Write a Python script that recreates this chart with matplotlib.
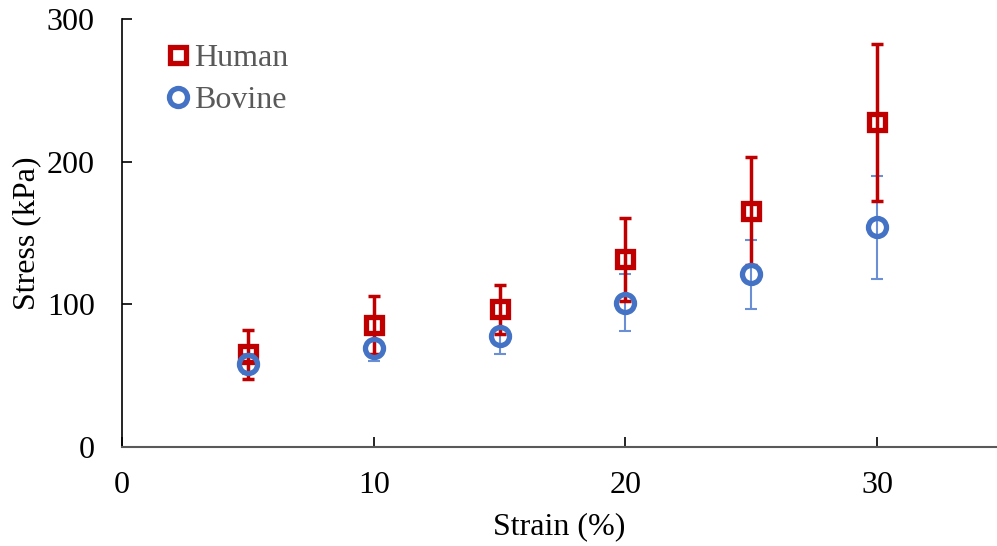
import numpy as np
import matplotlib.pyplot as plt

# dados
strain = [5, 10, 15, 20, 25, 30]
human = [65, 85.5, 96.5, 131.5, 165.5, 227.5]
human_err = [17, 20, 17, 29, 38, 55]
bovine = [58, 69.5, 78, 101, 121, 154]
bovine_err = [7, 9, 13, 20, 24, 36]

red = '#C00000'
blue = '#4472C4'

plt.rcParams['font.family'] = ['Liberation Serif', 'DejaVu Serif']

fig = plt.figure(figsize=(9.97, 5.46), dpi=100)
ax = fig.add_axes([122/997, 1-447/546, 875/997, 428/546])

ax.errorbar(strain, bovine, yerr=bovine_err, fmt='none', ecolor='#6a8fd4',
            elinewidth=1.5, capsize=4.5, capthick=1.5, zorder=1)
ax.errorbar(strain, human, yerr=human_err, fmt='none', ecolor=red,
            elinewidth=2.5, capsize=4.5, capthick=2.5, zorder=2)
ax.plot(strain, human, 's', ms=11, mfc='none', mec=red, mew=3.8,
        label='Human', zorder=3)
ax.plot(strain, bovine, 'o', ms=13, mfc='none', mec=blue, mew=3.8,
        label='Bovine', zorder=4)

ax.set_xlim(0, 875/25.17)
ax.set_ylim(0, 300)
ax.set_xticks([0, 10, 20, 30])
ax.set_yticks([0, 100, 200, 300])
ax.tick_params(direction='in', length=7, width=1.2, labelsize=23, pad=17)
ax.tick_params(axis='y', pad=19.5)
for s in ['top', 'right']:
    ax.spines[s].set_visible(False)
ax.spines['left'].set_linewidth(1.2)
ax.spines['bottom'].set_linewidth(1.5)
ax.spines['bottom'].set_color('#595959')

ax.set_xlabel('Strain (%)', fontsize=23, labelpad=9)
ax.set_ylabel('Stress (kPa)', fontsize=23, labelpad=4)

leg = ax.legend(loc='upper left', bbox_to_anchor=(0.013, 1.01), frameon=False,
                fontsize=23, handletextpad=0.0, handlelength=1.0,
                labelspacing=0.4, labelcolor='#595959')

fig.savefig('out.png', dpi=100)
